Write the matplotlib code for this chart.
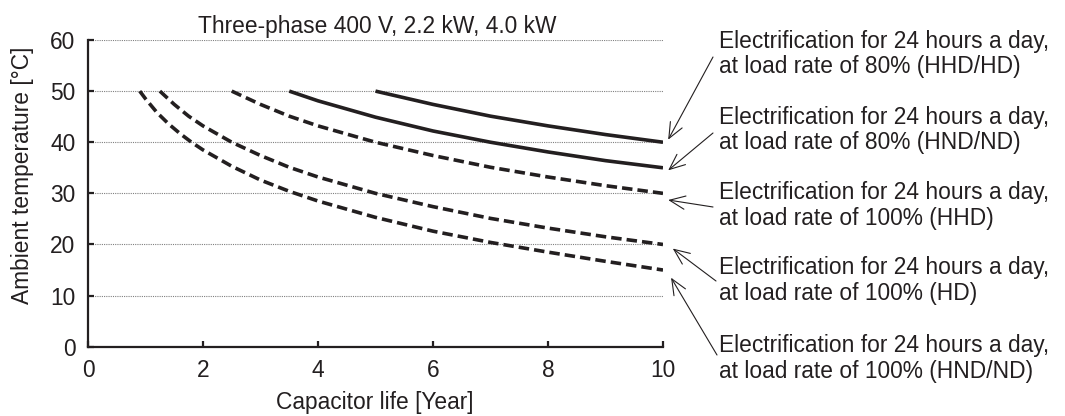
import matplotlib
matplotlib.use("Agg")
import matplotlib.pyplot as plt

plt.rcParams['font.family'] = ['Liberation Sans', 'DejaVu Sans']

INK = '#231f20'
FS = 16.4

# capacitor life [year] vs ambient temperature [deg C]
life_80_hhd = [5.0, 6.0, 7.0, 8.0, 9.0, 10.0]
temp_80_hhd = [50.0, 47.4, 45.1, 43.2, 41.5, 40.0]

life_80_hnd = [3.5, 4.0, 5.0, 6.0, 7.0, 8.0, 9.0, 10.0]
temp_80_hnd = [50.0, 48.1, 44.9, 42.2, 40.0, 38.1, 36.4, 35.0]

life_100_hhd = [2.5, 3.0, 3.5, 4.0, 5.0, 6.0, 7.0, 8.0, 9.0, 10.0]
temp_100_hhd = [50.0, 47.4, 45.1, 43.2, 40.0, 37.4, 35.1, 33.2, 31.5, 30.0]

life_100_hd = [1.25, 1.5, 1.75, 2.0, 2.5, 3.0, 3.5, 4.0, 5.0, 6.0, 7.0, 8.0, 9.0, 10.0]
temp_100_hd = [50.0, 47.4, 45.1, 43.2, 40.0, 37.4, 35.1, 33.2, 30.0, 27.4, 25.1, 23.2, 21.5, 20.0]

life_100_hnd = [0.9, 1.0, 1.2, 1.4, 1.6, 1.8, 2.0, 2.5, 3.0, 3.5, 4.0, 5.0, 6.0, 7.0, 8.0, 9.0, 10.0]
temp_100_hnd = [50.0, 48.5, 45.8, 43.6, 41.7, 40.0, 38.5, 35.3, 32.6, 30.4, 28.5, 25.3, 22.6, 20.4, 18.5, 16.7, 15.0]

labels = [
    "Electrification for 24 hours a day,\nat load rate of 80% (HHD/HD)",
    "Electrification for 24 hours a day,\nat load rate of 80% (HND/ND)",
    "Electrification for 24 hours a day,\nat load rate of 100% (HHD)",
    "Electrification for 24 hours a day,\nat load rate of 100% (HD)",
    "Electrification for 24 hours a day,\nat load rate of 100% (HND/ND)",
]

x_ticks = [0, 2, 4, 6, 8, 10]
y_ticks = [0, 10, 20, 30, 40, 50, 60]

W, H = 1065, 416
fig = plt.figure(figsize=(W / 100, H / 100), dpi=100)
ax = fig.add_axes([88 / W, 1 - 346.7 / H, (663 - 88) / W, (346.7 - 40) / H])

for v in y_ticks[1:]:
    ax.axhline(v, color='#808080', lw=0.8, ls=(0, (1, 1)), zorder=1)

solid = dict(color=INK, lw=2.6, solid_capstyle='butt', zorder=3)
dashed = dict(color=INK, lw=2.6, dashes=(2.9, 1.4), dash_capstyle='butt', zorder=3)
ax.plot(life_80_hhd, temp_80_hhd, **solid)
ax.plot(life_80_hnd, temp_80_hnd, **solid)
ax.plot(life_100_hhd, temp_100_hhd, **dashed)
ax.plot(life_100_hd, temp_100_hd, **dashed)
ax.plot(life_100_hnd, temp_100_hnd, **dashed)

ax.set_xlim(0, 10)
ax.set_ylim(0, 60)
ax.set_xticks(x_ticks)
ax.set_yticks(y_ticks)
for side in ['top', 'right']:
    ax.spines[side].set_visible(False)
for side in ['left', 'bottom']:
    ax.spines[side].set_linewidth(1.6)
    ax.spines[side].set_color(INK)
ax.tick_params(direction='in', length=4, width=1.6, color=INK,
               labelsize=FS, labelcolor=INK)
ax.tick_params(axis='x', pad=9)
ax.tick_params(axis='y', pad=9)

fig.text(377 / W, 1 - 33 / H, "Three-phase 400 V, 2.2 kW, 4.0 kW",
         ha='center', va='baseline', fontsize=FS, color=INK)
fig.text(375 / W, 1 - 409 / H, "Capacitor life [Year]",
         ha='center', va='baseline', fontsize=FS, color=INK)
fig.text(23 / W, 1 - 175 / H, "Ambient temperature [°C]", rotation=90,
         ha='center', va='center', fontsize=FS, color=INK)

# labels on the right with arrows to the curve ends
text_y = [54, 130, 205.5, 280.5, 358.5]
tails = [(713, 57), (713, 133), (713, 207), (716, 281), (717, 355)]
tips = [(10.09, 40.5), (10.09, 34.5), (10.09, 28.7), (10.17, 19.2), (10.14, 13.5)]
for lab, ty, tail, tip in zip(labels, text_y, tails, tips):
    fig.text(719 / W, 1 - ty / H, lab, ha='left', va='center',
             fontsize=FS, color=INK, linespacing=1.15)
    ax.annotate("", xy=tip, xycoords='data',
                xytext=(tail[0], H - tail[1]), textcoords='figure pixels',
                annotation_clip=False,
                arrowprops=dict(arrowstyle='->,head_length=0.7,head_width=0.3',
                                lw=0.8, color=INK, shrinkA=0, shrinkB=0,
                                mutation_scale=16))

fig.savefig("out.png", dpi=100)
